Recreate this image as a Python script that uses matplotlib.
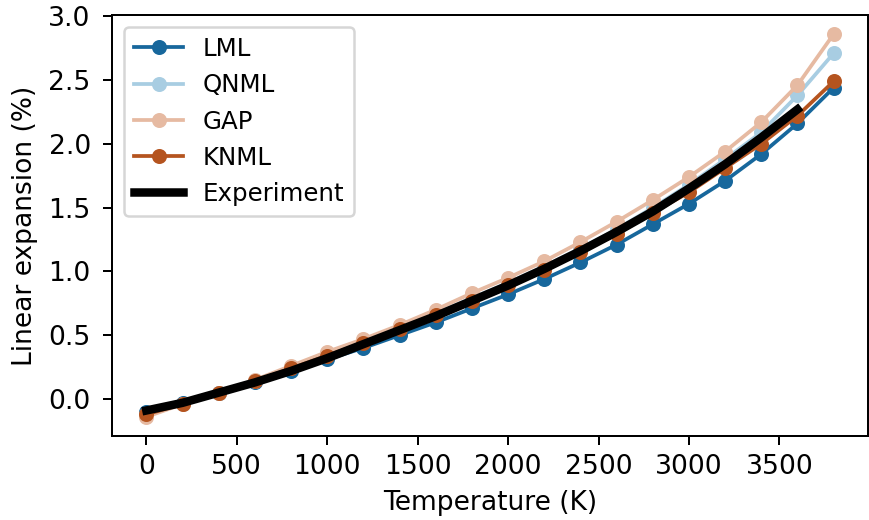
import numpy as np
import matplotlib.pyplot as plt

temps = np.arange(0, 3801, 200)

lml = [-0.10, -0.03, 0.05, 0.13, 0.22, 0.31, 0.40, 0.50, 0.60, 0.71,
       0.82, 0.94, 1.07, 1.21, 1.37, 1.53, 1.71, 1.92, 2.16, 2.44]
qnml = [-0.12, -0.04, 0.05, 0.14, 0.25, 0.35, 0.45, 0.56, 0.67, 0.79,
        0.91, 1.04, 1.18, 1.33, 1.50, 1.68, 1.88, 2.09, 2.38, 2.71]
gap = [-0.14, -0.04, 0.05, 0.15, 0.26, 0.37, 0.47, 0.58, 0.70, 0.83,
       0.95, 1.08, 1.23, 1.39, 1.56, 1.74, 1.94, 2.17, 2.46, 2.86]
knml = [-0.12, -0.04, 0.05, 0.14, 0.24, 0.34, 0.44, 0.55, 0.66, 0.77,
        0.89, 1.01, 1.15, 1.29, 1.46, 1.62, 1.81, 2.00, 2.22, 2.49]

exp_temps = np.arange(0, 3601, 200)
experiment = [-0.09, -0.03, 0.05, 0.13, 0.22, 0.32, 0.43, 0.54, 0.65, 0.77,
              0.89, 1.02, 1.16, 1.31, 1.47, 1.65, 1.84, 2.05, 2.27]

fig = plt.figure(figsize=(869 / 180, 520 / 180), dpi=180)
ax = fig.add_axes([112 / 869, 1 - 436 / 520, 756 / 869, 421 / 520])

ax.plot(temps, lml, 'o-', ms=5, color='#17679c', label='LML')
ax.plot(temps, qnml, 'o-', ms=5, color='#a8cde2', label='QNML')
ax.plot(temps, gap, 'o-', ms=5, color='#e6baa2', label='GAP')
ax.plot(temps, knml, 'o-', ms=5, color='#b5541f', label='KNML')
ax.plot(exp_temps, experiment, '-', color='black', lw=3.4, label='Experiment')

ax.set_xticks(np.arange(0, 3501, 500))
ax.set_yticks(np.arange(0, 3.01, 0.5))
ax.tick_params(labelsize=10.6)
ax.tick_params(axis='y', pad=5)
ax.set_xlabel('Temperature (K)', fontsize=10.6)
ax.set_ylabel('Linear expansion (%)', fontsize=10.6)
ax.legend(loc='upper left', fontsize=9.8)

fig.savefig('out.png', dpi=180)
